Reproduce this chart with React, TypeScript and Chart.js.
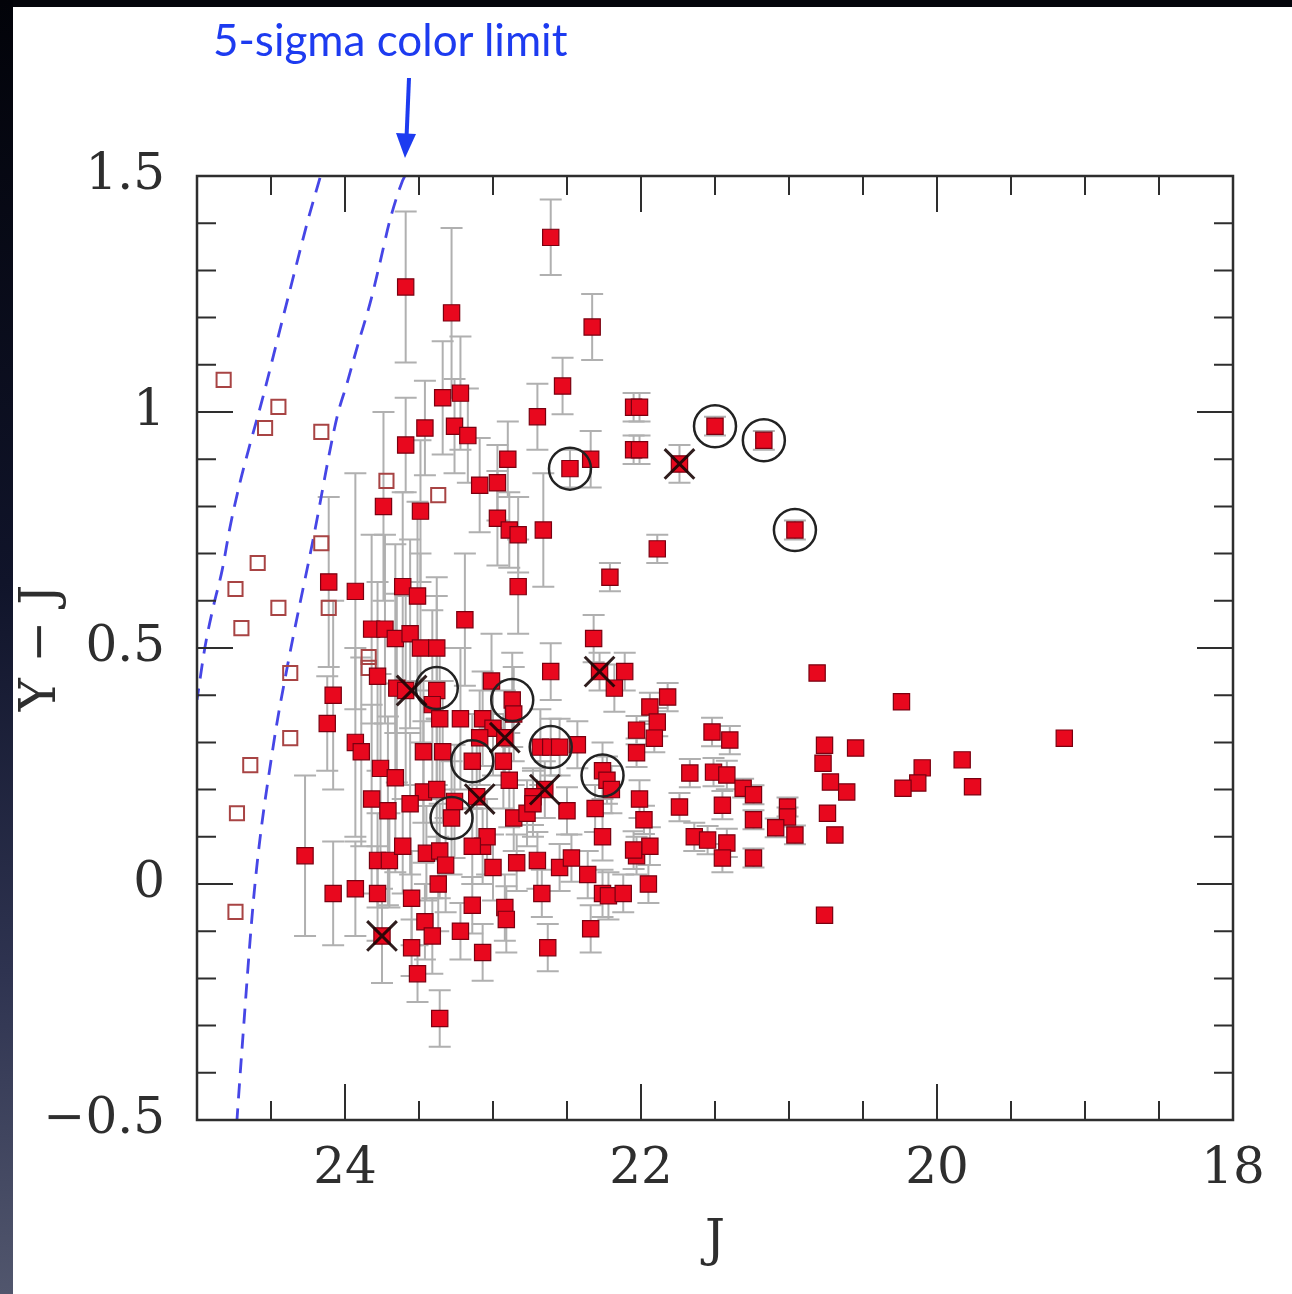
import React, { useEffect, useRef } from 'react';
import { Chart, registerables } from 'chart.js';

Chart.register(...registerables);

// detected objects: J magnitude, Y-J colour and the 1-sigma error on Y-J
const detJ = [
  22.61, 23.59, 23.28, 22.33, 22.53, 23.34, 23.22, 22.70, 22.05, 22.01,
  23.46, 23.59, 23.26, 23.17, 22.90, 22.48, 22.34, 22.05, 22.01, 23.09,
  22.97, 23.49, 23.74, 22.97, 22.89, 22.83, 22.66, 22.83, 22.21, 21.89,
  21.74, 21.50, 21.17, 20.96, 24.11, 23.93, 23.61, 23.51, 23.19, 23.82,
  23.73, 23.66, 23.56, 23.49, 23.38, 22.32, 23.78, 24.08, 23.65, 23.38,
  23.59, 23.41, 23.36, 23.22, 23.01, 22.61, 22.11, 22.28, 22.18, 22.87,
  22.86, 23.07, 23.00, 22.92, 23.09, 23.93, 23.89, 23.47, 23.34, 23.14,
  22.93, 22.89, 22.68, 22.61, 22.55, 22.43, 22.26, 22.23, 22.20, 23.76,
  23.66, 22.65, 22.73, 22.50, 22.31, 22.01, 23.82, 23.71, 23.47, 23.38,
  23.26, 23.11, 23.28, 24.27, 24.08, 23.93, 23.78, 23.75, 23.55, 23.46,
  23.41, 23.55, 23.51, 23.36, 23.78, 23.70, 23.61, 23.45, 23.36, 23.32,
  23.37, 23.56, 23.22, 23.14, 23.07, 23.07, 23.04, 23.14, 23.00, 22.92,
  22.91, 22.84, 22.70, 22.67, 22.63, 22.55, 22.47, 22.36, 22.34, 22.26,
  22.22, 22.12, 21.95, 22.03, 21.94, 22.26, 22.86, 22.77, 22.73, 24.12,
  20.81, 20.24, 19.14, 20.76, 20.55, 20.77, 20.72, 20.61, 20.74, 20.69,
  20.76, 20.10, 20.13, 20.23, 19.83, 19.76, 21.82, 21.94, 21.89, 21.91,
  22.03, 22.03, 21.52, 21.40, 21.67, 21.51, 21.42, 21.31, 21.24, 21.01,
  21.01, 21.09, 20.96, 21.24, 21.24, 21.45, 21.74, 21.98, 21.64, 21.55,
  21.42, 21.45, 22.05,
];
const detYJ = [
  1.37, 1.265, 1.21, 1.18, 1.055, 1.03, 1.04, 0.99, 1.01, 1.01,
  0.966, 0.93, 0.97, 0.95, 0.90, 0.88, 0.90, 0.92, 0.92, 0.845,
  0.85, 0.79, 0.80, 0.775, 0.75, 0.74, 0.75, 0.63, 0.65, 0.71,
  0.89, 0.97, 0.94, 0.75, 0.64, 0.62, 0.63, 0.61, 0.56, 0.54,
  0.54, 0.52, 0.53, 0.50, 0.50, 0.52, 0.44, 0.40, 0.415, 0.41,
  0.41, 0.38, 0.35, 0.35, 0.43, 0.45, 0.45, 0.45, 0.415, 0.39,
  0.36, 0.35, 0.33, 0.31, 0.31, 0.30, 0.28, 0.28, 0.28, 0.26,
  0.26, 0.22, 0.29, 0.29, 0.29, 0.295, 0.24, 0.22, 0.20, 0.245,
  0.225, 0.20, 0.185, 0.155, 0.16, 0.18, 0.18, 0.155, 0.195, 0.20,
  0.175, 0.185, 0.14, 0.06, -0.02, -0.01, -0.02, -0.11, -0.03, -0.08,
  -0.11, -0.135, -0.19, -0.285, 0.05, 0.05, 0.08, 0.065, 0.07, 0.04,
  0.00, 0.17, -0.10, -0.045, -0.145, 0.08, 0.10, 0.08, 0.035, -0.05,
  -0.075, 0.045, 0.05, -0.02, -0.135, 0.035, 0.055, 0.02, -0.095, -0.02,
  -0.025, -0.02, 0.00, 0.06, 0.08, 0.10, 0.14, 0.15, 0.17, 0.34,
  0.447, 0.386, 0.309, 0.294, 0.288, 0.256, 0.216, 0.195, 0.15, 0.104,
  -0.066, 0.246, 0.214, 0.203, 0.263, 0.206, 0.396, 0.375, 0.343, 0.309,
  0.326, 0.278, 0.322, 0.305, 0.235, 0.237, 0.231, 0.203, 0.189, 0.163,
  0.142, 0.119, 0.104, 0.136, 0.055, 0.167, 0.163, 0.136, 0.100, 0.093,
  0.087, 0.055, 0.072,
];
const detErr = [
  0.08, 0.16, 0.18, 0.07, 0.06, 0.12, 0.12, 0.07, 0.03, 0.03,
  0.10, 0.10, 0.10, 0.10, 0.08, 0.04, 0.06, 0.03, 0.03, 0.10,
  0.08, 0.15, 0.20, 0.10, 0.08, 0.08, 0.12, 0.10, 0.03, 0.03,
  0.04, 0.02, 0.02, 0.02, 0.18, 0.25, 0.20, 0.20, 0.14, 0.20,
  0.20, 0.20, 0.20, 0.20, 0.15, 0.05, 0.20, 0.20, 0.20, 0.20,
  0.20, 0.20, 0.15, 0.15, 0.10, 0.06, 0.04, 0.04, 0.05, 0.10,
  0.10, 0.10, 0.10, 0.10, 0.10, 0.20, 0.20, 0.15, 0.15, 0.10,
  0.10, 0.10, 0.08, 0.06, 0.06, 0.05, 0.06, 0.05, 0.05, 0.20,
  0.20, 0.06, 0.06, 0.05, 0.05, 0.04, 0.20, 0.20, 0.15, 0.15,
  0.12, 0.12, 0.12, 0.17, 0.11, 0.10, 0.10, 0.10, 0.10, 0.08,
  0.08, 0.06, 0.06, 0.06, 0.10, 0.10, 0.10, 0.10, 0.10, 0.10,
  0.10, 0.15, 0.06, 0.06, 0.06, 0.08, 0.08, 0.08, 0.07, 0.07,
  0.07, 0.06, 0.06, 0.05, 0.05, 0.05, 0.05, 0.05, 0.05, 0.05,
  0.05, 0.04, 0.04, 0.04, 0.04, 0.05, 0.07, 0.07, 0.07, 0.10,
  0, 0, 0, 0, 0, 0, 0, 0, 0, 0,
  0, 0, 0, 0, 0, 0, 0.03, 0.03, 0.03, 0.03,
  0.03, 0.03, 0.03, 0.03, 0.03, 0.03, 0.03, 0.02, 0.02, 0.02,
  0.02, 0.02, 0.02, 0.02, 0.02, 0.03, 0.03, 0.03, 0.03, 0.03,
  0.03, 0.03, 0.04,
];

// objects fainter than the Y limit (open squares)
const faintJ = [24.82, 24.45, 24.54, 24.16, 23.72, 23.37, 24.16, 24.59, 24.74, 24.45, 24.70, 24.11, 23.84, 23.84, 24.37, 24.37, 24.64, 24.73, 24.74];
const faintYJ = [1.068, 1.011, 0.966, 0.958, 0.854, 0.824, 0.722, 0.680, 0.625, 0.585, 0.542, 0.585, 0.481, 0.458, 0.447, 0.309, 0.252, 0.150, -0.059];

// ringed and crossed objects
const ringJ = [22.48, 21.50, 21.17, 20.96, 23.38, 22.87, 23.14, 22.61, 22.26, 23.28];
const ringYJ = [0.88, 0.97, 0.94, 0.75, 0.415, 0.39, 0.26, 0.29, 0.23, 0.14];
const crossJ = [21.74, 23.55, 22.28, 22.92, 22.65, 23.09, 23.75];
const crossYJ = [0.89, 0.41, 0.45, 0.31, 0.20, 0.18, -0.11];

// 5-sigma colour limit curves
const limitJ1 = [24.169, 24.25, 24.372, 24.44, 24.56, 24.64, 24.71, 24.777, 24.83, 24.89, 24.946, 25.0];
const limitYJ1 = [1.496, 1.407, 1.258, 1.174, 1.025, 0.934, 0.85, 0.756, 0.665, 0.587, 0.502, 0.39];
const limitJ2 = [23.595, 23.615, 23.696, 23.764, 23.83, 23.91, 23.986, 24.054, 24.216, 24.39, 24.486, 24.61, 24.70, 24.73];
const limitYJ2 = [1.5, 1.487, 1.407, 1.316, 1.231, 1.146, 1.061, 0.989, 0.729, 0.46, 0.29, -0.006, -0.367, -0.5];

const xLabelled = [24, 22, 20, 18];
const yLabelled = [1.5, 1, 0.5, 0, -0.5];

const zip = (xs: number[], ys: number[]) => xs.map((x, i) => ({ x, y: ys[i] }));

const serif = 'DejaVu Serif';
const ink = '#2e2e2e';

const errorBars = {
  id: 'errorBars',
  beforeDatasetsDraw(chart: any) {
    const { ctx, chartArea: a, scales: { x, y } } = chart;
    ctx.save();
    ctx.beginPath();
    ctx.rect(a.left, a.top, a.right - a.left, a.bottom - a.top);
    ctx.clip();
    ctx.strokeStyle = '#b0b0b0';
    ctx.lineWidth = 2;
    detJ.forEach((j, i) => {
      const e = detErr[i];
      if (!e) return;
      const px = x.getPixelForValue(j);
      const top = y.getPixelForValue(detYJ[i] + e);
      const bot = y.getPixelForValue(detYJ[i] - e);
      ctx.beginPath();
      ctx.moveTo(px, top);
      ctx.lineTo(px, bot);
      ctx.moveTo(px - 11, top);
      ctx.lineTo(px + 11, top);
      ctx.moveTo(px - 11, bot);
      ctx.lineTo(px + 11, bot);
      ctx.stroke();
    });
    ctx.restore();
  },
};

// box frame with inward ticks on all four sides
const frame = {
  id: 'frame',
  afterDraw(chart: any) {
    const { ctx, chartArea: a, scales: { x, y } } = chart;
    ctx.save();
    ctx.strokeStyle = ink;
    ctx.lineWidth = 2.5;
    ctx.strokeRect(a.left, a.top, a.right - a.left, a.bottom - a.top);
    ctx.lineWidth = 2;
    ctx.beginPath();
    x.ticks.forEach((t: any) => {
      const px = x.getPixelForValue(t.value);
      const len = Math.abs(t.value % 2) < 1e-6 ? 36 : 19;
      ctx.moveTo(px, a.bottom);
      ctx.lineTo(px, a.bottom - len);
      ctx.moveTo(px, a.top);
      ctx.lineTo(px, a.top + len);
    });
    y.ticks.forEach((t: any) => {
      const py = y.getPixelForValue(t.value);
      const r = Math.round(t.value * 10);
      const len = r % 5 === 0 ? 36 : 19;
      ctx.moveTo(a.left, py);
      ctx.lineTo(a.left + len, py);
      ctx.moveTo(a.right, py);
      ctx.lineTo(a.right - len, py);
    });
    ctx.stroke();
    ctx.restore();
  },
};

export default function App() {
  const canvasRef = useRef<HTMLCanvasElement>(null);

  useEffect(() => {
    const chart = new Chart(canvasRef.current as HTMLCanvasElement, {
      type: 'scatter',
      data: {
        datasets: [
          {
            data: zip(crossJ, crossYJ),
            pointStyle: 'crossRot',
            pointRadius: 21,
            borderColor: 'rgba(25,5,5,0.9)',
            borderWidth: 3,
          },
          {
            data: zip(ringJ, ringYJ),
            pointStyle: 'circle',
            pointRadius: 21,
            borderColor: '#222',
            borderWidth: 2.5,
            backgroundColor: 'rgba(0,0,0,0)',
          },
          {
            data: zip(detJ, detYJ),
            pointStyle: 'rect',
            pointRadius: 11.5,
            backgroundColor: '#e8081e',
            borderColor: '#7a0010',
            borderWidth: 1.2,
          },
          {
            data: zip(faintJ, faintYJ),
            pointStyle: 'rect',
            pointRadius: 10,
            backgroundColor: 'rgba(255,255,255,0)',
            borderColor: '#a84444',
            borderWidth: 2,
          },
          {
            data: zip(limitJ2, limitYJ2),
            showLine: true,
            pointRadius: 0,
            borderColor: '#4646e6',
            borderWidth: 2.8,
            borderDash: [15, 10],
            cubicInterpolationMode: 'monotone',
          },
          {
            data: zip(limitJ1, limitYJ1),
            showLine: true,
            pointRadius: 0,
            borderColor: '#4646e6',
            borderWidth: 2.8,
            borderDash: [15, 10],
            cubicInterpolationMode: 'monotone',
          },
        ],
      },
      options: {
        animation: false,
        responsive: false,
        layout: { padding: { top: 176, right: 59, left: 0, bottom: 0 } },
        plugins: { legend: { display: false }, tooltip: { enabled: false } },
        scales: {
          x: {
            type: 'linear',
            min: 18,
            max: 25,
            reverse: true,
            grid: { display: false, drawTicks: false },
            border: { display: false },
            ticks: {
              stepSize: 0.5,
              autoSkip: false,
              maxRotation: 0,
              padding: 20,
              color: ink,
              font: { family: serif, size: 50 },
              callback: (v: any) => (xLabelled.includes(v) ? String(v) : ''),
            },
            title: {
              display: true,
              text: 'J',
              color: ink,
              font: { family: serif, size: 50 },
              padding: { top: 0, bottom: 22 },
            },
            afterFit: (s: any) => {
              s.height = 174;
            },
          },
          y: {
            type: 'linear',
            min: -0.5,
            max: 1.5,
            grid: { display: false, drawTicks: false },
            border: { display: false },
            ticks: {
              stepSize: 0.1,
              autoSkip: false,
              padding: 32,
              color: ink,
              font: { family: serif, size: 50 },
              callback: (v: any) => {
                const r = Math.round(v * 10) / 10;
                if (!yLabelled.includes(r)) return '';
                return r < 0 ? '\u2212' + Math.abs(r) : String(r);
              },
            },
            title: {
              display: true,
              text: 'Y \u2212 J',
              color: ink,
              font: { family: serif, size: 50 },
              padding: { top: 12, bottom: 0 },
            },
            afterFit: (s: any) => {
              s.width = 197;
            },
          },
        },
      },
      plugins: [errorBars, frame],
    });
    return () => chart.destroy();
  }, []);

  return (
    <div style={{ position: 'fixed', left: 0, top: 0, width: 1292, height: 1294, background: '#fff', overflow: 'hidden' }}>
      <canvas ref={canvasRef} width={1292} height={1294} style={{ position: 'absolute', left: 0, top: 0 }} />
      <div style={{ position: 'absolute', left: 0, top: 0, width: 1292, height: 7, background: '#04050b' }} />
      <div
        style={{
          position: 'absolute',
          left: 0,
          top: 0,
          width: 13,
          height: 1294,
          background: 'linear-gradient(to bottom, #020309 0%, #10142a 45%, #2e3350 75%, #51566d 100%)',
        }}
      />
      <div
        style={{
          position: 'absolute',
          left: 213,
          top: 17,
          fontFamily: 'Lato, "Open Sans", sans-serif',
          fontSize: 44,
          lineHeight: '44px',
          color: '#1d3bf0',
          whiteSpace: 'nowrap',
        }}
      >
        5-sigma color limit
      </div>
      <svg width={1292} height={200} style={{ position: 'absolute', left: 0, top: 0 }}>
        <line x1={409} y1={78} x2={406.5} y2={138} stroke="#1d3bf0" strokeWidth={4} />
        <polygon points="396,133 416,134 405,158" fill="#1d3bf0" />
      </svg>
    </div>
  );
}
